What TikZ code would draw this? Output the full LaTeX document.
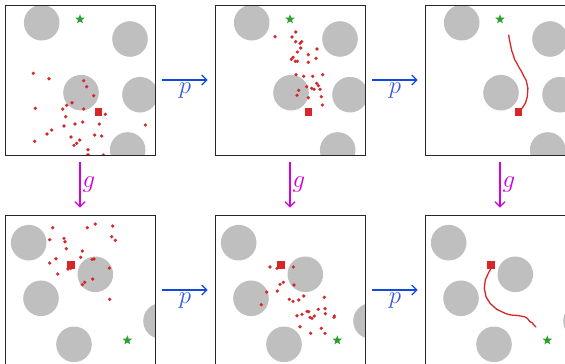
\documentclass[tikz,border=0pt]{standalone}
\usetikzlibrary{shapes.geometric,arrows.meta}
\definecolor{obst}{RGB}{191,191,191}
\definecolor{dotred}{RGB}{214,39,40}
\definecolor{stargreen}{RGB}{44,160,44}
\definecolor{pblue}{RGB}{17,72,224}
\definecolor{plabel}{RGB}{60,90,225}
\definecolor{gmag}{RGB}{210,0,220}
\tikzset{
  panel/.style={draw=black!85,line width=0.9pt,minimum width=150pt,minimum height=150pt,inner sep=0pt,fill=none},
  obstacle/.style={fill=obst},
  goalstar/.style={star,star points=5,star point ratio=2.4,fill=stargreen,inner sep=0pt,minimum size=10pt},
  startsq/.style={fill=dotred,inner sep=0pt,minimum size=7.5pt},
  pdot/.style={fill=dotred},
  traj/.style={draw=dotred,line width=1.3pt,line cap=round,line join=round},
  parrow/.style={draw=pblue,line width=1.2pt,-{Straight Barb[length=5pt,width=10pt]},shorten <=7pt,shorten >=7pt},
  garrow/.style={draw=gmag,line width=1.2pt,-{Straight Barb[length=5pt,width=10pt]},shorten <=7pt,shorten >=7pt},
  plab/.style={text=plabel,font=\fontsize{26}{28}\selectfont,inner sep=1pt},
  glab/.style={text=gmag,font=\fontsize{26}{28}\selectfont,inner sep=1pt}
}
\newcommand{\topobst}[2]{%
  \foreach \cx/\cy in {36.7/17.7,125/34,76/87.7,135/89.7,122.7/145}
    {\fill[obstacle] (#1+\cx,#2+\cy) circle (17.8);}}
\newcommand{\botobst}[2]{%
  \foreach \cx/\cy in {23.7/27.7,36/83.3,90.3/59.3,69/129.3,156/106}
    {\fill[obstacle] (#1+\cx,#2+\cy) circle (17.8);}}
\begin{document}
\begin{tikzpicture}[x=1pt,y=-1pt]
\useasboundingbox (0,0) rectangle (565,364);
\clip (0,0) rectangle (565,364);
% ---------- top-left
\begin{scope}
\clip (5,5) rectangle (155,155);
\topobst{5}{5}
\foreach \x/\y in {33.3/73.3,49/78.7,83.7/80.7,86.7/86.7,93.7/95.7,72/102.7,66.7/105.3,62.7/109,35.3/108.3,83.7/109,105.3/114.3,65.7/116.7,75/124,82.7/122,99.3/124,64/126,145.3/125,51.7/130,47/134,94.7/135,101.7/136,71/137,79.7/140,76.7/143.3,74/145.3,34.7/141.3,88/149.7,88/154.7,103.3/155}
  {\fill[pdot] (\x,\y) circle (1.8);}
\end{scope}
\node[goalstar] (g1) at (80,19.3) {};
\node[startsq] (s1) at (98.7,112) {};
% ---------- top-middle
\begin{scope}
\clip (215,5) rectangle (365,155);
\topobst{215}{5}
\foreach \x/\y in {275/36.7,295.7/32,292/37,295.7/41.7,301.7/41.7,300/43.3,300.7/48,317/49,297.3/52,308.3/54.7,316/58.3,293/57.3,291.3/59.3,295.3/61.3,297.3/61.3,308.3/62.3,296/74.7,303.7/76.3,312.7/76.3,322.7/74.7,316.7/83.3,318.3/85.7,306.7/86.7,311.7/88.3,314/89.3,320/89.3,298.7/90.3,297/95.3,308.3/97.7,321.3/96.7,322.3/105}
  {\fill[pdot] (\x,\y) circle (1.8);}
\end{scope}
\node[goalstar] (g2) at (290,19.3) {};
\node[startsq] (s2) at (308.7,112) {};
% ---------- top-right
\begin{scope}
\clip (425,5) rectangle (575,155);
\topobst{425}{5}
\end{scope}
\node[goalstar] (g3) at (500,19.3) {};
\node[startsq] (s3) at (518.7,112) {};
\coordinate (e3) at (508.7,35);
\draw[traj] (e3) -- (509.5,40) -- (510.9,46.7) -- (511.8,51) -- (513.3,55) -- (514.6,59.5) -- (516.9,63.3) -- (519,67.5) -- (521.7,71.7) -- (523.4,75.5) -- (526,80) -- (527,84) -- (527.9,88.3) -- (527.6,92.5) -- (527.3,96.7) -- (526.4,100) -- (525.2,103.6) -- (522,108.3) -- (s3.center);
% ---------- bottom-left
\begin{scope}
\clip (5,215) rectangle (155,365);
\botobst{5}{215}
\foreach \x/\y in {52.7/227.7,87.3/227.7,95.3/224,112.7/226,49.7/239.7,64/238.3,65/241.7,111.7/236.7,115.3/240.3,66.3/248.7,82.3/251,80.7/257.3,56/258.7,49.7/263,92/259.3,94/259,109.3/268,68/269,70.7/268.3,57.7/274,92.7/279,84.7/282.3,82.3/284.7,109.7/299.3}
  {\fill[pdot] (\x,\y) circle (1.8);}
\end{scope}
\node[goalstar] (g4) at (127.3,340.3) {};
\node[startsq] (s4) at (71,265) {};
% ---------- bottom-middle
\begin{scope}
\clip (215,215) rectangle (365,365);
\botobst{215}{215}
\foreach \x/\y in {270/267,277/268.3,293.3/267,280/284.3,283.3/282.3,294/285,266.7/292,277.3/291,261.3/304.7,289.3/299.3,293/301.3,298.7/300,303.7/296,324.3/297.3,318.3/309.3,325/308.7,307/311.3,308.7/311.7,314.3/316,310/317.3,312/318.3,325.3/313.7,334.3/316,334/317.3,302/314.3,297/315.7,300/326.7,310.7/333.3,321.3/328.3,325/333.3}
  {\fill[pdot] (\x,\y) circle (1.8);}
\end{scope}
\node[goalstar] (g5) at (337.3,340.3) {};
\node[startsq] (s5) at (281,265) {};
% ---------- bottom-right
\begin{scope}
\clip (425,215) rectangle (575,365);
\botobst{425}{215}
\end{scope}
\node[goalstar] (g6) at (547.3,340.3) {};
\node[startsq] (s6) at (491,265) {};
\coordinate (e6) at (536,327);
\draw[traj] (s6.center) -- (491,268.3) -- (488.3,273.3) -- (485.3,280) -- (484.3,288.3) -- (486,296.7) -- (490,303.3) -- (496.7,309.3) -- (505,313.3) -- (509,314.6) -- (513.3,315.3) -- (517,315.4) -- (521.7,316.2) -- (525,317) -- (527.3,318.3) -- (529,320.5) -- (530,321.7) -- (532,322.6) -- (533.3,324.3) -- (e6);
% ---------- panel frames
\node[panel] (P1) at (80,80) {};
\node[panel] (P2) at (290,80) {};
\node[panel] (P3) at (500,80) {};
\node[panel] (P4) at (80,290) {};
\node[panel] (P5) at (290,290) {};
\node[panel] (P6) at (500,290) {};
% ---------- arrows
\draw[parrow] (P1.east) -- (P2.west) node[midway,below=1pt,plab] (lp1) {$p$};
\draw[parrow] (P2.east) -- (P3.west) node[midway,below=1pt,plab] (lp2) {$p$};
\draw[parrow] (P4.east) -- (P5.west) node[midway,below=1pt,plab] (lp3) {$p$};
\draw[parrow] (P5.east) -- (P6.west) node[midway,below=1pt,plab] (lp4) {$p$};
\draw[garrow] (P1.south) -- (P4.north) node[midway,right=1pt,glab] (lg1) {$g$};
\draw[garrow] (P2.south) -- (P5.north) node[midway,right=1pt,glab] (lg2) {$g$};
\draw[garrow] (P3.south) -- (P6.north) node[midway,right=1pt,glab] (lg3) {$g$};
\end{tikzpicture}
\end{document}
